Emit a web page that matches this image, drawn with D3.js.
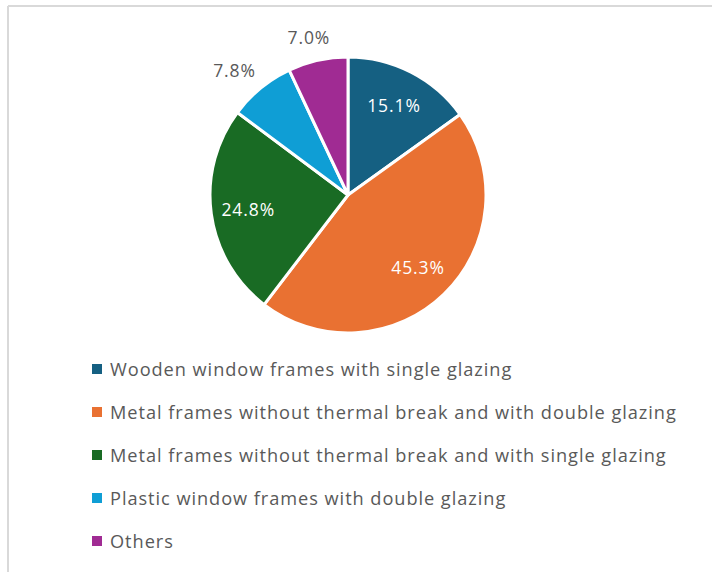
<!DOCTYPE html>
<html>
<head>
<meta charset="utf-8">
<script src="https://cdn.jsdelivr.net/npm/d3@7"></script>
<style>
  html, body { margin: 0; padding: 0; background: #fff; }
  svg { display: block; }
  text { font-family: "Open Sans", Lato, sans-serif; }
</style>
</head>
<body>
<div id="chart"></div>
<script>
// Window frame types and their share of the total (%)
const categories = [
  "Wooden window frames with single glazing",
  "Metal frames without thermal break and with double glazing",
  "Metal frames without thermal break and with single glazing",
  "Plastic window frames with double glazing",
  "Others"
];
const shares = [15.1, 45.3, 24.8, 7.8, 7.0];
const colors = ["#156082", "#E97132", "#196B24", "#0F9ED5", "#A02B93"];
// Slices whose label sits outside the pie
const outsideLabel = [false, false, false, true, true];

const W = 712, H = 572;
const cx = 348, cy = 195, R = 138;
const textColor = "#595959";

const svg = d3.select("#chart").append("svg")
  .attr("width", W).attr("height", H);

// Chart area frame (top and left edges visible)
svg.append("line").attr("x1", 8).attr("y1", 6).attr("x2", W).attr("y2", 6)
  .attr("stroke", "#d9d9d9").attr("stroke-width", 2);
svg.append("line").attr("x1", 8).attr("y1", 6).attr("x2", 8).attr("y2", H)
  .attr("stroke", "#d9d9d9").attr("stroke-width", 2);

const data = categories.map((c, i) => ({ name: c, value: shares[i], color: colors[i], outside: outsideLabel[i] }));

const pie = d3.pie().value(d => d.value).sort(null);
const arcs = pie(data);
const arc = d3.arc().innerRadius(0).outerRadius(R);

const g = svg.append("g").attr("transform", `translate(${cx},${cy})`);

g.selectAll("path.slice")
  .data(arcs)
  .join("path")
  .attr("class", "slice")
  .attr("d", arc)
  .attr("fill", d => d.data.color)
  .attr("stroke", "#fff")
  .attr("stroke-width", 3)
  .attr("stroke-linejoin", "round");

const fmt = v => v.toFixed(1) + "%";
const labelFont = 17.5;

arcs.forEach(d => {
  const mid = (d.startAngle + d.endAngle) / 2;
  const s = Math.sin(mid), c = Math.cos(mid);
  const t = g.append("text")
    .attr("font-size", labelFont)
    .attr("letter-spacing", 0.9)
    .attr("text-anchor", "middle")
    .attr("dominant-baseline", "central")
    .text(fmt(d.data.value));
  if (!d.data.outside) {
    const r = R * 0.73;
    t.attr("x", r * s).attr("y", -r * c).attr("fill", "#fff");
  } else {
    const bb = t.node().getBBox();
    const r = R + 12;
    const x = r * s + (bb.width / 2 + 8) * s;
    const y = -r * c - (bb.height / 2) * c;
    t.attr("x", x).attr("y", y).attr("fill", textColor);
  }
});

// Legend
const legendX = 92, legendY0 = 369, legendStep = 43;
const legend = svg.append("g");
data.forEach((d, i) => {
  const y = legendY0 + i * legendStep;
  legend.append("rect")
    .attr("x", legendX).attr("y", y - 5)
    .attr("width", 10).attr("height", 10)
    .attr("fill", d.color);
  legend.append("text")
    .attr("x", legendX + 18).attr("y", y)
    .attr("dominant-baseline", "central")
    .attr("font-size", 18.2)
    .attr("letter-spacing", 0.95)
    .attr("fill", textColor)
    .text(d.name);
});
</script>
</body>
</html>
